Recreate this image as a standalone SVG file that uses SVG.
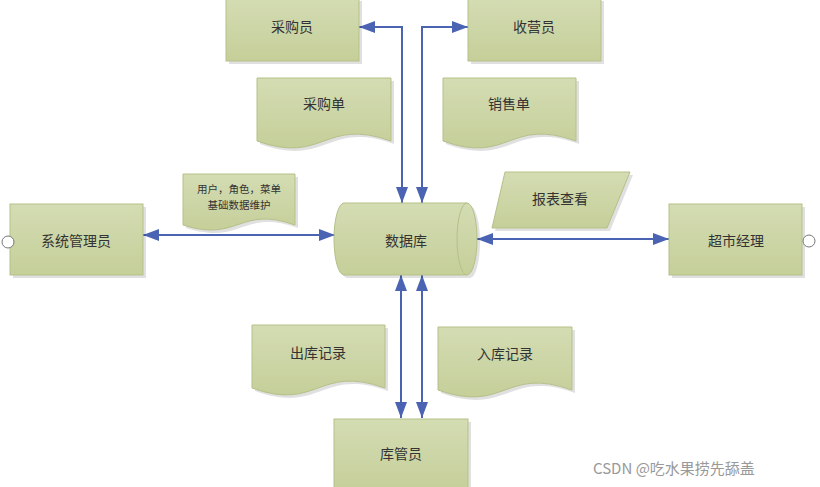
<svg xmlns="http://www.w3.org/2000/svg" width="820" height="487" viewBox="0 0 820 487">
<style>
.n{fill:url(#g);stroke:#b4c188;stroke-width:1}
.sh{fill:#000;opacity:0.12}
.t{font-family:"Noto Sans CJK SC","Noto Sans",sans-serif;font-size:14px;fill:#333;text-anchor:middle;dominant-baseline:central}
.s{font-size:10.5px}
.c{fill:none;stroke:#4b63b3;stroke-width:2;marker-start:url(#a);marker-end:url(#a)}
.o{fill:#fff;stroke:#777;stroke-width:1}
</style>
<defs>
<linearGradient id="g" x1="0" y1="0" x2="0" y2="1">
<stop offset="0" stop-color="#d4dcb3"/>
<stop offset="1" stop-color="#c5cf99"/>
</linearGradient>
<marker id="a" viewBox="0 0 16 12" refX="16" refY="6" markerWidth="16" markerHeight="12" markerUnits="userSpaceOnUse" orient="auto-start-reverse">
<path d="M0,0 L16,6 L0,12 Z" fill="#4b63b3"/>
</marker>
</defs>
<rect width="820" height="487" fill="#fff"/>

<g id="connectors">
<path class="c" d="M402 203 V27 H359"/>
<path class="c" d="M422 203 V27 H468"/>
<path class="c" d="M143 235 H335"/>
<path class="c" d="M477 239 H669"/>
<path class="c" d="M401 275 V418"/>
<path class="c" d="M422 275 V418"/>
</g>

<g id="caigouyuan">
<rect class="sh" x="229" y="1" width="133" height="63"/>
<rect class="n" x="226" y="-2" width="133" height="63"/>
<text class="t" x="292" y="26">采购员</text>
</g>
<g id="shouyingyuan">
<rect class="sh" x="471" y="1" width="133" height="63"/>
<rect class="n" x="468" y="-2" width="133" height="63"/>
<text class="t" x="534" y="26">收营员</text>
</g>

<g id="caigoudan">
<path class="sh" d="M260 81 H394 V144 C327 120 327 168 260 144 Z"/>
<path class="n" d="M257 78 H391 V141 C324 117 324 165 257 141 Z"/>
<text class="t" x="324" y="103">采购单</text>
</g>
<g id="xiaoshoudan">
<path class="sh" d="M446 81 H579 V144 C512 120 512 168 446 144 Z"/>
<path class="n" d="M443 78 H576 V141 C509 117 509 165 443 141 Z"/>
<text class="t" x="509" y="103">销售单</text>
</g>

<g id="xitongguanliyuan">
<rect class="sh" x="13" y="207" width="133" height="71"/>
<rect class="n" x="10" y="204" width="133" height="71"/>
<text class="t" x="76" y="240">系统管理员</text>
<circle class="o" cx="8" cy="242" r="6"/>
</g>

<g id="yonghu">
<path class="sh" d="M186 177 H298 V228 C242 208 242 246 186 228 Z"/>
<path class="n" d="M183 174 H295 V225 C239 205 239 243 183 225 Z"/>
<text class="t s" x="239" y="188">用户，角色，菜单</text>
<text class="t s" x="239" y="204">基础数据维护</text>
</g>

<g id="shujuku">
<path class="sh" d="M347 206 H470 A10 36 0 0 1 470 278 H347 A10 36 0 0 1 347 206 Z"/>
<path class="n" d="M344 203 H467 A10 36 0 0 1 467 275 H344 A10 36 0 0 1 344 203 Z"/>
<path d="M467 203 A10 36 0 0 0 467 275" fill="none" stroke="#b4c188" stroke-width="1"/>
<text class="t" x="406" y="240">数据库</text>
</g>

<g id="baobiao">
<path class="sh" d="M508 175 H633 L610 231 H495 Z"/>
<path class="n" d="M505 172 H630 L607 228 H492 Z"/>
<text class="t" x="560" y="198">报表查看</text>
</g>

<g id="chaoshijingli">
<rect class="sh" x="672" y="207" width="133" height="71"/>
<rect class="n" x="669" y="204" width="133" height="71"/>
<text class="t" x="736" y="240">超市经理</text>
<circle class="o" cx="809" cy="241" r="6"/>
</g>

<g id="chuku">
<path class="sh" d="M255 328 H388 V391 C321 367 321 415 255 391 Z"/>
<path class="n" d="M252 325 H385 V388 C318 364 318 412 252 388 Z"/>
<text class="t" x="318" y="352">出库记录</text>
</g>
<g id="ruku">
<path class="sh" d="M441 330 H575 V393 C508 369 508 417 441 393 Z"/>
<path class="n" d="M438 327 H572 V390 C505 366 505 414 438 390 Z"/>
<text class="t" x="505" y="353">入库记录</text>
</g>

<g id="kuguanyuan">
<rect class="sh" x="337" y="422" width="134" height="72"/>
<rect class="n" x="334" y="419" width="134" height="72"/>
<text class="t" x="401" y="453">库管员</text>
</g>

<text x="593" y="474" font-family="'Noto Sans CJK SC','Noto Sans',sans-serif" font-size="15" fill="#999">CSDN @吃水果捞先舔盖</text>
</svg>
